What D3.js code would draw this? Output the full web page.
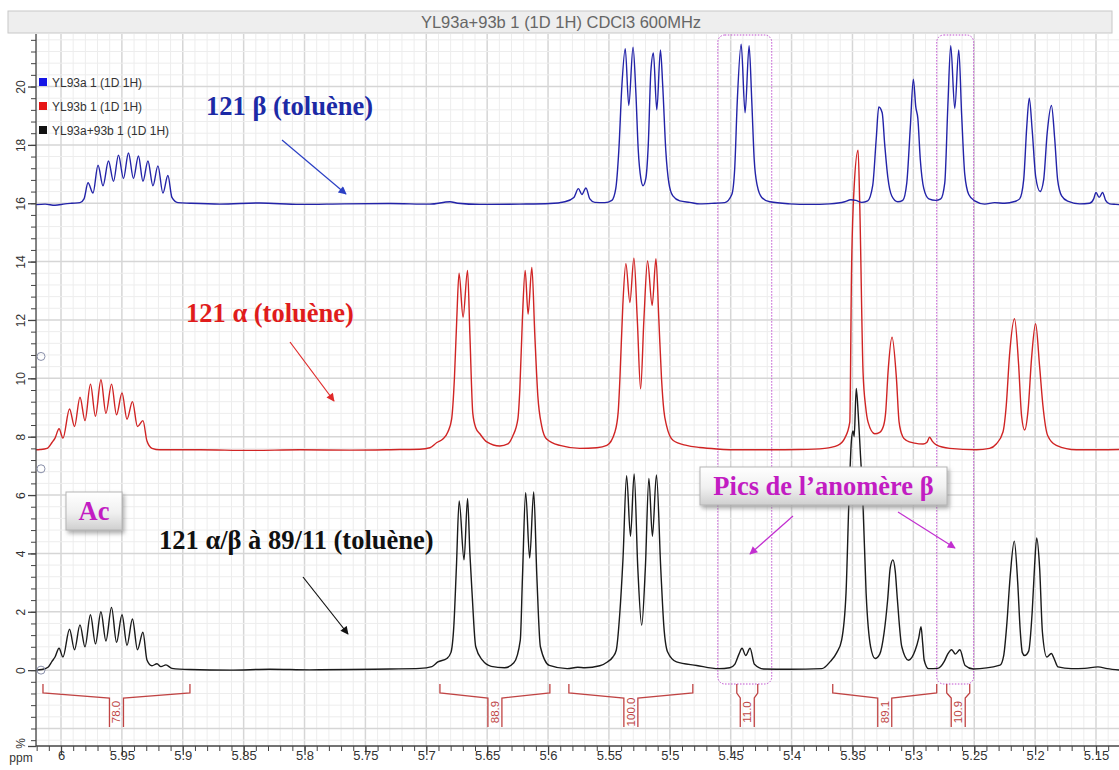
<!DOCTYPE html>
<html>
<head>
<meta charset="utf-8">
<script src="https://cdn.jsdelivr.net/npm/d3@7"></script>
<style>
body { margin: 0; background: #fff; }
svg { display: block; }
</style>
</head>
<body>
<div id="plot"></div>
<script>
// series names (legend) and title
const titleText = "YL93a+93b 1 (1D 1H) CDCl3 600MHz";
const legendNames = ["YL93a 1 (1D 1H)", "YL93b 1 (1D 1H)", "YL93a+93b 1 (1D 1H)"];
const seriesColors = ["#2323a8", "#d02424", "#1a1a1a"];
const legendColors = ["#1414e6", "#e61414", "#111111"];

// axis tick labels
const xTickValues = [6, 5.95, 5.9, 5.85, 5.8, 5.75, 5.7, 5.65, 5.6, 5.55, 5.5, 5.45, 5.4, 5.35, 5.3, 5.25, 5.2, 5.15];
const yTickValues = [0, 2, 4, 6, 8, 10, 12, 14, 16, 18, 20];

// spectra: [ppm, intensity %]
const blueSpectrum = [[6.021,15.95],[6.0131,15.97],[6.0049,15.93],[5.9967,15.98],[5.991,16.0],[5.9844,16.02],[5.9811,16.15],[5.9778,16.7],[5.9737,16.35],[5.9696,17.3],[5.9655,16.6],[5.961,17.45],[5.9569,16.75],[5.9528,17.65],[5.9487,16.85],[5.9446,17.72],[5.9405,16.85],[5.9364,17.62],[5.9327,16.75],[5.9286,17.45],[5.9245,16.6],[5.9204,17.28],[5.9163,16.35],[5.9122,16.95],[5.9089,16.2],[5.904,16.02],[5.8941,16.0],[5.8695,15.97],[5.8366,16.01],[5.8038,15.96],[5.7668,15.98],[5.7299,15.99],[5.697,15.97],[5.6806,16.05],[5.6741,16.0],[5.656,15.96],[5.6232,15.97],[5.5985,15.99],[5.5862,16.05],[5.5788,16.2],[5.5751,16.5],[5.5722,16.3],[5.5689,16.52],[5.5657,16.15],[5.5616,16.03],[5.5534,16.02],[5.5476,16.1],[5.5444,16.5],[5.5419,17.8],[5.5394,20.0],[5.5366,21.3],[5.5337,19.35],[5.5302,21.35],[5.5279,19.8],[5.5259,17.8],[5.5238,16.85],[5.522,16.6],[5.5197,16.85],[5.5177,18.0],[5.5156,20.5],[5.5135,21.15],[5.5107,19.2],[5.5077,21.25],[5.5058,20.0],[5.5033,17.8],[5.5008,16.7],[5.4975,16.25],[5.4918,16.08],[5.4836,16.03],[5.4754,15.98],[5.4631,16.0],[5.4549,16.02],[5.4491,16.3],[5.4467,17.2],[5.4446,19.5],[5.4414,21.45],[5.4382,19.1],[5.4349,21.4],[5.4327,19.5],[5.4307,17.5],[5.4282,16.6],[5.4245,16.2],[5.4179,16.05],[5.4015,15.98],[5.385,15.96],[5.3687,15.98],[5.3563,16.05],[5.3514,16.12],[5.3473,16.1],[5.3424,16.03],[5.3375,16.08],[5.3334,16.6],[5.3305,18.2],[5.3284,19.3],[5.3256,19.1],[5.3235,18.0],[5.321,16.9],[5.3177,16.25],[5.3128,16.05],[5.3087,16.1],[5.3054,16.7],[5.3025,18.6],[5.3,20.25],[5.298,19.3],[5.2963,18.9],[5.2943,17.5],[5.2914,16.5],[5.2873,16.15],[5.2816,16.1],[5.2775,16.15],[5.2742,16.7],[5.2717,19.3],[5.2693,21.4],[5.266,19.25],[5.2627,21.25],[5.2603,19.0],[5.2578,17.0],[5.2545,16.3],[5.2496,16.08],[5.2414,15.97],[5.2332,16.02],[5.225,16.0],[5.2168,16.06],[5.2127,16.15],[5.2094,16.8],[5.2069,18.6],[5.2048,19.6],[5.2024,18.5],[5.1995,16.9],[5.1959,16.4],[5.193,16.8],[5.1901,18.4],[5.1866,19.35],[5.1839,18.2],[5.1815,16.8],[5.1782,16.25],[5.1733,16.07],[5.1634,15.98],[5.1552,16.0],[5.1519,16.15],[5.15,16.37],[5.1474,16.2],[5.1446,16.37],[5.1421,16.1],[5.1388,15.98],[5.1339,15.96],[5.1306,15.95]];

const redSpectrum = [[6.021,7.55],[6.0172,7.56],[6.0115,7.6],[6.0074,7.8],[6.0049,7.95],[6.0016,8.27],[5.9984,7.95],[5.993,8.95],[5.9889,8.35],[5.9844,9.35],[5.9803,8.55],[5.9758,9.8],[5.9717,8.7],[5.9672,9.95],[5.9631,8.8],[5.9585,9.8],[5.9544,8.75],[5.9499,9.5],[5.9458,8.6],[5.9413,9.2],[5.9372,8.35],[5.9327,8.55],[5.9294,7.85],[5.9253,7.6],[5.9187,7.55],[5.8859,7.55],[5.8448,7.53],[5.8038,7.55],[5.7627,7.54],[5.7217,7.56],[5.7053,7.57],[5.697,7.62],[5.6913,7.8],[5.6864,7.92],[5.6823,8.16],[5.6792,8.6],[5.6769,10.0],[5.675,12.0],[5.6731,13.6],[5.6698,12.1],[5.6661,13.7],[5.6642,11.5],[5.6618,8.8],[5.6593,8.3],[5.656,8.1],[5.6503,7.82],[5.6396,7.68],[5.633,7.75],[5.6289,8.03],[5.6248,8.6],[5.6232,9.6],[5.6211,12.0],[5.6188,13.7],[5.6164,12.2],[5.6133,13.8],[5.6109,11.5],[5.6084,9.4],[5.6053,8.38],[5.6012,7.92],[5.5903,7.7],[5.5739,7.6],[5.56,7.62],[5.5517,7.7],[5.5451,8.16],[5.5424,8.85],[5.541,9.98],[5.5386,12.5],[5.5361,13.93],[5.5328,12.6],[5.5295,14.12],[5.5267,12.0],[5.524,9.64],[5.5213,12.0],[5.5183,14.02],[5.5145,12.5],[5.5114,14.1],[5.509,12.0],[5.5068,9.98],[5.5049,8.9],[5.5027,8.38],[5.4972,7.87],[5.4863,7.7],[5.4754,7.63],[5.4614,7.58],[5.4426,7.55],[5.4179,7.55],[5.3933,7.56],[5.3728,7.6],[5.3621,7.7],[5.3563,7.95],[5.3522,8.5],[5.3508,13.6],[5.3487,16.5],[5.3454,17.82],[5.344,15.9],[5.3413,10.2],[5.3391,9.0],[5.3372,8.5],[5.3317,8.1],[5.3276,8.15],[5.3243,8.4],[5.3227,8.85],[5.3208,10.2],[5.3175,11.41],[5.3139,10.0],[5.3117,8.5],[5.3087,8.0],[5.3057,7.87],[5.2989,7.78],[5.292,7.75],[5.289,7.8],[5.2866,7.98],[5.2845,7.85],[5.2811,7.72],[5.2702,7.6],[5.2483,7.55],[5.2374,7.6],[5.2319,7.75],[5.2264,8.16],[5.2237,9.07],[5.221,10.8],[5.2169,12.04],[5.2136,10.5],[5.2111,8.7],[5.2086,8.23],[5.2058,8.9],[5.2029,10.7],[5.1996,11.87],[5.1963,10.4],[5.1936,9.07],[5.1897,8.04],[5.1826,7.7],[5.1662,7.55],[5.1471,7.55],[5.1306,7.56]];

const blackSpectrum = [[6.021,0.0],[6.0156,0.02],[6.0107,0.1],[6.0074,0.3],[6.0049,0.45],[6.0016,0.75],[5.9984,0.45],[5.993,1.4],[5.9889,0.7],[5.9844,1.55],[5.9803,0.8],[5.9758,1.9],[5.9717,0.9],[5.9672,2.0],[5.9631,1.0],[5.9585,2.15],[5.9544,0.95],[5.9499,1.9],[5.9458,0.85],[5.9413,1.75],[5.9372,0.7],[5.9327,1.3],[5.9294,0.35],[5.9253,0.15],[5.9212,0.22],[5.9179,0.12],[5.9138,0.18],[5.9089,0.06],[5.8941,0.02],[5.8613,0.0],[5.8284,0.03],[5.7956,0.01],[5.7627,0.02],[5.7299,0.04],[5.7053,0.06],[5.6954,0.12],[5.6905,0.28],[5.6831,0.4],[5.6798,0.6],[5.6774,1.5],[5.6753,3.5],[5.673,5.8],[5.669,3.78],[5.6661,5.88],[5.6642,4.0],[5.6624,2.64],[5.6594,0.8],[5.6539,0.34],[5.6467,0.13],[5.6357,0.08],[5.6281,0.25],[5.6228,1.03],[5.621,3.21],[5.6184,6.08],[5.6151,3.84],[5.6118,6.11],[5.6092,3.21],[5.6063,0.8],[5.599,0.16],[5.5843,0.05],[5.5756,0.1],[5.5698,0.08],[5.5575,0.15],[5.5513,0.28],[5.5468,0.45],[5.544,0.68],[5.541,2.0],[5.5385,3.78],[5.5355,6.66],[5.5323,4.59],[5.5293,6.72],[5.5263,3.5],[5.5231,1.54],[5.5201,3.5],[5.5172,6.57],[5.5143,4.59],[5.511,6.69],[5.5074,3.44],[5.5049,1.5],[5.5018,0.62],[5.4945,0.28],[5.478,0.16],[5.4598,0.05],[5.4508,0.08],[5.4467,0.2],[5.4432,0.55],[5.4407,0.75],[5.4377,0.5],[5.4341,0.75],[5.4305,0.2],[5.423,0.04],[5.4015,0.03],[5.3752,0.05],[5.3681,0.3],[5.3629,0.6],[5.3589,1.03],[5.3553,2.64],[5.3527,6.08],[5.3508,7.9],[5.3495,8.2],[5.3486,8.0],[5.3469,9.65],[5.3453,8.8],[5.3436,7.5],[5.3417,6.08],[5.3388,2.64],[5.3351,0.8],[5.3314,0.4],[5.3276,0.55],[5.3241,1.26],[5.3211,2.41],[5.319,3.5],[5.3168,3.78],[5.3149,3.4],[5.3131,2.41],[5.3095,0.8],[5.304,0.34],[5.2985,0.68],[5.2956,1.1],[5.2937,1.49],[5.2923,0.9],[5.2911,0.34],[5.2875,0.05],[5.2801,0.06],[5.2746,0.3],[5.2718,0.55],[5.2685,0.7],[5.2655,0.55],[5.2618,0.7],[5.2575,0.16],[5.2508,0.04],[5.2288,0.17],[5.2258,0.5],[5.2234,1.49],[5.2205,3.2],[5.2171,4.42],[5.2143,3.0],[5.2123,1.4],[5.2105,0.6],[5.2086,0.5],[5.2053,0.65],[5.2024,2.0],[5.2004,3.6],[5.1987,4.53],[5.1963,3.5],[5.194,1.3],[5.1904,0.45],[5.1867,0.57],[5.184,0.35],[5.1812,0.11],[5.1702,0.05],[5.1593,0.06],[5.1484,0.11],[5.1407,0.05],[5.1306,0.0]];

// integration regions (ppm) and values
const integralFrom = [6.0148, 5.6888, 5.5829, 5.445, 5.3662, 5.2726];
const integralTo = [5.8941, 5.5985, 5.4811, 5.4278, 5.2808, 5.2537];
const integralValues = ["78.0", "88.9", "100.0", "11.0", "89.1", "10.9"];

// dotted boxes around the beta anomer peaks (ppm)
const boxFrom = [5.4606, 5.2808];
const boxTo = [5.4163, 5.2505];

// spectrum offset handles (% value)
const handleValues = [10.75, 6.9, 0];

const W = 1119, H = 770;
const pLeft = 36, pRight = 1119, pTop = 34, pBottom = 746;

const svg = d3.select("#plot")
.append("svg")
.attr("width", W)
.attr("height", H)
.attr("font-family", "'Liberation Sans', Arial, sans-serif");

const x = d3.scaleLinear().domain([6.0, 5.15]).range([61, 1096]);
const y = d3.scaleLinear().domain([-2.6, 21.8]).range([pBottom, pTop]);

const defs = svg.append("defs");
defs.append("clipPath").attr("id", "clip")
.append("rect").attr("x", pLeft).attr("y", pTop).attr("width", pRight - pLeft).attr("height", pBottom - pTop);

const grad = defs.append("linearGradient").attr("id", "boxgrad").attr("x1", 0).attr("y1", 0).attr("x2", 0).attr("y2", 1);
grad.append("stop").attr("offset", "0%").attr("stop-color", "#ffffff");
grad.append("stop").attr("offset", "55%").attr("stop-color", "#f0f0f0");
grad.append("stop").attr("offset", "100%").attr("stop-color", "#cfcfcf");

const shadow = defs.append("filter").attr("id", "shadow").attr("x", "-10%").attr("y", "-20%").attr("width", "130%").attr("height", "160%");
shadow.append("feDropShadow").attr("dx", 2).attr("dy", 3).attr("stdDeviation", 2).attr("flood-color", "#777").attr("flood-opacity", 0.6);

const arrowColors = {blue: "#2a3fc4", red: "#e02a2a", black: "#111", mag: "#c22fd0"};
Object.entries(arrowColors).forEach(([k, c]) => {
	defs.append("marker")
	.attr("id", "arr-" + k)
	.attr("viewBox", "0 0 10 10")
	.attr("refX", 9).attr("refY", 5)
	.attr("markerWidth", 9).attr("markerHeight", 8)
	.attr("markerUnits", "userSpaceOnUse")
	.attr("orient", "auto")
	.append("path").attr("d", "M0,0 L10,5 L0,10 Z").attr("fill", c);
});

// title bar
svg.append("rect")
.attr("x", 8).attr("y", 11).attr("width", 1104).attr("height", 22)
.attr("fill", "#eeeeee").attr("stroke", "#c8c8c8");
svg.append("text")
.attr("x", 561).attr("y", 28)
.attr("text-anchor", "middle")
.attr("font-size", 16.5).attr("fill", "#666")
.text(titleText);

// grid
const grid = svg.append("g");
const ppmGrid = d3.range(513, 603);
grid.selectAll("line.v")
.data(ppmGrid)
.join("line")
.attr("x1", d => x(d / 100)).attr("x2", d => x(d / 100))
.attr("y1", pTop).attr("y2", pBottom)
.attr("stroke", d => d % 5 === 0 ? "#d6d6d6" : "#ededed")
.attr("stroke-width", d => d % 5 === 0 ? 1.5 : 1);
const valGrid = d3.range(-6, 55);
grid.selectAll("line.h")
.data(valGrid)
.join("line")
.attr("x1", pLeft).attr("x2", pRight)
.attr("y1", d => y(d * 0.4)).attr("y2", d => y(d * 0.4))
.attr("stroke", d => d % 5 === 0 ? "#d6d6d6" : "#ededed")
.attr("stroke-width", d => d % 5 === 0 ? 1.5 : 1);

// beta anomer boxes
svg.selectAll("rect.box")
.data(boxFrom.map((f, i) => ({from: f, to: boxTo[i]})))
.join("rect")
.attr("class", "box")
.attr("x", d => x(d.from)).attr("width", d => x(d.to) - x(d.from))
.attr("y", pTop + 1).attr("height", 684 - pTop - 1)
.attr("rx", 7)
.attr("fill", "none")
.attr("stroke", "#c050d0")
.attr("stroke-dasharray", "1.5,1.5");

// spectra
const line = d3.line()
.x(d => x(d[0]))
.y(d => y(d[1]))
.curve(d3.curveMonotoneX);

svg.append("g").attr("clip-path", "url(#clip)")
.selectAll("path")
.data([redSpectrum, blueSpectrum, blackSpectrum])
.join("path")
.attr("d", line)
.attr("fill", "none")
.attr("stroke", (d, i) => [seriesColors[1], seriesColors[0], seriesColors[2]][i])
.attr("stroke-width", 1.4)
.attr("stroke-linejoin", "round");

// integrals
const intColor = "#c04444";
const integ = svg.append("g");
integralValues.forEach((v, i) => {
	const x0 = x(integralFrom[i]), x1 = x(integralTo[i]);
	const mid = (x0 + x1) / 2;
	integ.append("path")
	.attr("d", `M${x0},684 L${x0},693 L${mid - 7},698 L${mid - 7},727 M${x1},684 L${x1},693 L${mid + 7},698 L${mid + 7},727`)
	.attr("fill", "none").attr("stroke", intColor).attr("stroke-width", 1.3);
	integ.append("text")
	.attr("transform", `translate(${mid + 4},712) rotate(-90)`)
	.attr("text-anchor", "middle")
	.attr("font-size", 11.5)
	.attr("fill", intColor)
	.text(v);
});

// axes
const xMinor = d3.range(514, 603).map(i => i / 100);
svg.append("g")
.attr("transform", `translate(0,${pBottom})`)
.call(d3.axisBottom(x).tickValues(xMinor).tickSize(5).tickFormat(""))
.call(g => g.select(".domain").remove())
.selectAll("line").attr("stroke", "#444");

const xAxis = svg.append("g")
.attr("transform", `translate(0,${pBottom})`)
.call(d3.axisBottom(x).tickValues(xTickValues).tickSize(9).tickFormat(d => String(d)));
xAxis.select(".domain").remove();
xAxis.selectAll("line").attr("stroke", "#444").attr("stroke-width", 1.3);
xAxis.selectAll("text")
.attr("y", 5)
.attr("font-size", 13).attr("fill", "#333")
.attr("font-family", "'Liberation Sans', Arial, sans-serif");

const yMinor = d3.range(-6, 55).map(i => i * 0.4);
svg.append("g")
.attr("transform", `translate(${pLeft},0)`)
.call(d3.axisLeft(y).tickValues(yMinor).tickSize(5).tickFormat(""))
.call(g => g.select(".domain").remove())
.selectAll("line").attr("stroke", "#444");

const yAxis = svg.append("g")
.attr("transform", `translate(${pLeft},0)`)
.call(d3.axisLeft(y).tickValues(yTickValues.concat([-2.6])).tickSize(8).tickFormat(d => d === -2.6 ? "%" : String(d)));
yAxis.select(".domain").remove();
yAxis.selectAll("line").attr("stroke", "#444").attr("stroke-width", 1.3);
yAxis.selectAll("text")
.attr("x", null).attr("dy", null)
.attr("transform", d => d === -2.6 ? "translate(-11,-3) rotate(-90)" : "translate(-11,0) rotate(-90)")
.attr("text-anchor", "middle")
.attr("font-size", 12).attr("fill", "#333")
.attr("font-family", "'Liberation Sans', Arial, sans-serif");

svg.append("line").attr("x1", pLeft).attr("x2", pLeft).attr("y1", pTop).attr("y2", pBottom).attr("stroke", "#444").attr("stroke-width", 1.3);
svg.append("line").attr("x1", pLeft).attr("x2", pRight).attr("y1", pBottom).attr("y2", pBottom).attr("stroke", "#444").attr("stroke-width", 1.3);

svg.append("text")
.attr("x", 21).attr("y", 762)
.attr("text-anchor", "middle")
.attr("font-size", 12).attr("fill", "#333")
.text("ppm");

// offset handles
svg.selectAll("circle.handle")
.data(handleValues)
.join("circle")
.attr("class", "handle")
.attr("cx", 41).attr("cy", d => y(d))
.attr("r", 4)
.attr("fill", "none")
.attr("stroke", "#8a90aa")
.attr("stroke-width", 1);

// legend
const legend = svg.append("g");
legendNames.forEach((n, i) => {
	legend.append("rect")
	.attr("x", 39).attr("y", 78 + i * 24).attr("width", 8).attr("height", 8)
	.attr("fill", legendColors[i]);
	legend.append("text")
	.attr("x", 52).attr("y", 86.5 + i * 24)
	.attr("font-size", 12).attr("fill", "#333")
	.text(n);
});

// annotations
const serif = "'Liberation Serif', 'Times New Roman', serif";
function label(txt, px, py, color, anchor) {
	svg.append("text")
	.attr("x", px).attr("y", py)
	.attr("text-anchor", anchor || "start")
	.attr("font-family", serif)
	.attr("font-weight", "bold")
	.attr("font-size", 26.5)
	.attr("fill", color)
	.text(txt);
}
function arrow(x1, y1, x2, y2, key) {
	svg.append("line")
	.attr("x1", x1).attr("y1", y1).attr("x2", x2).attr("y2", y2)
	.attr("stroke", arrowColors[key]).attr("stroke-width", 1.2)
	.attr("marker-end", `url(#arr-${key})`);
}

label("121 β (toluène)", 206, 115, "#1c2aa6");
arrow(282, 140, 346, 194, "blue");

label("121 α (toluène)", 186, 322, "#e01c1c");
arrow(290, 342, 334, 401, "red");

label("121 α/β à 89/11 (toluène)", 159, 549, "#111");
arrow(303, 577, 348, 634, "black");

svg.append("rect")
.attr("x", 66).attr("y", 492).attr("width", 56).attr("height", 38)
.attr("fill", "url(#boxgrad)").attr("stroke", "#b5b5b5")
.attr("filter", "url(#shadow)");
label("Ac", 94, 520, "#c21cc2", "middle");

svg.append("rect")
.attr("x", 700).attr("y", 467).attr("width", 247).attr("height", 38)
.attr("fill", "url(#boxgrad)").attr("stroke", "#b5b5b5")
.attr("filter", "url(#shadow)");
label("Pics de l’anomère β", 823.5, 495, "#c21cc2", "middle");
arrow(793, 516, 750, 554, "mag");
arrow(898, 512, 955, 548, "mag");
</script>
</body>
</html>
